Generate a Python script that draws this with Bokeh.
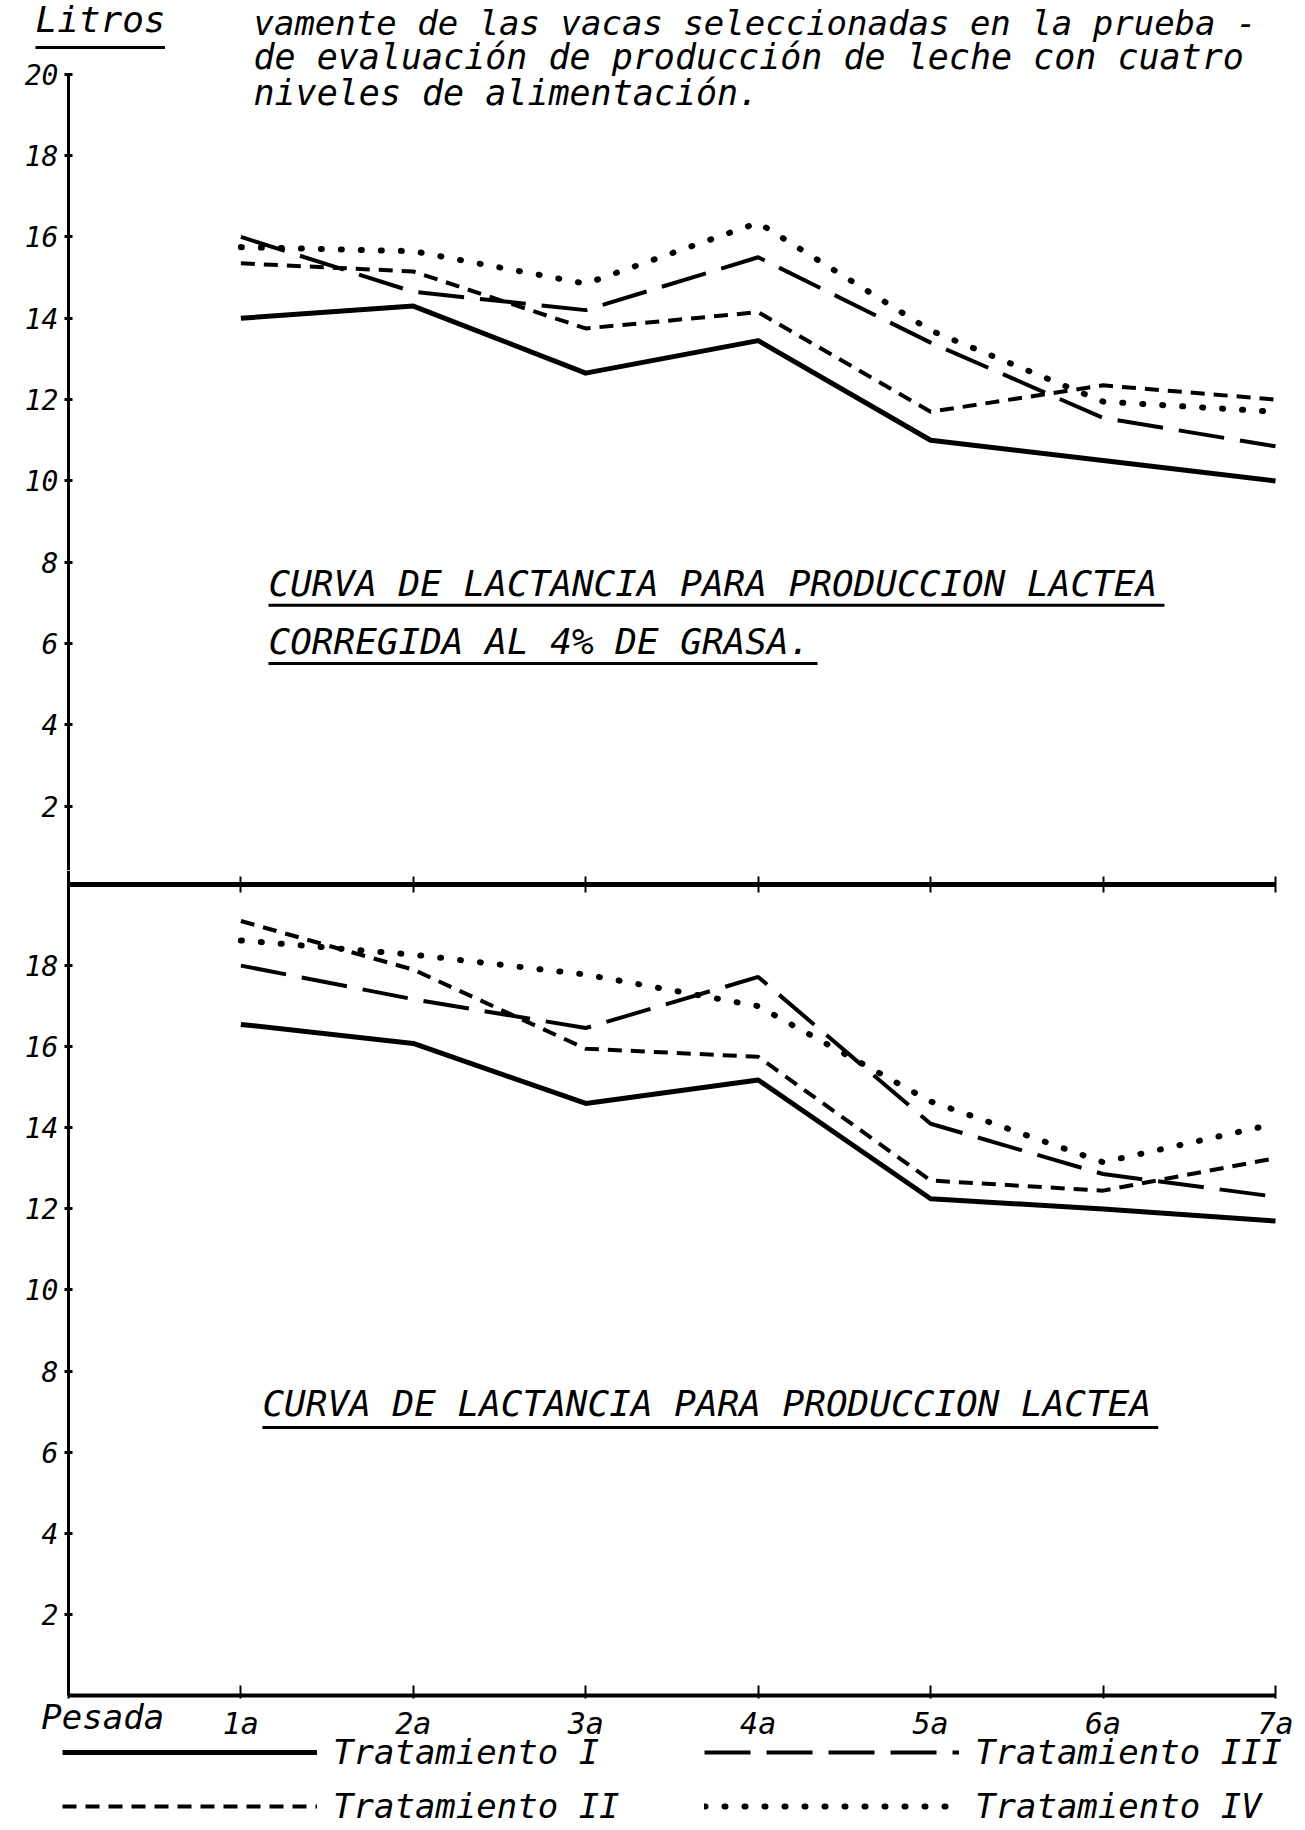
from bokeh.plotting import figure
from bokeh.models import Range1d, LinearAxis, FixedTicker, Legend, LegendItem
from bokeh.layouts import column
from bokeh.embed import file_html
from bokeh.resources import INLINE
from bokeh.core.properties import value

# ---------------- data ----------------
pesada_labels = ["1a", "2a", "3a", "4a", "5a", "6a", "7a"]
pesada_num = [1, 2, 3, 4, 5, 6, 7]

# Producción corregida al 4% de grasa (litros)
corr_t1 = [14.0, 14.3, 12.65, 13.45, 11.0, 10.5, 10.0]
corr_t2 = [15.35, 15.15, 13.75, 14.15, 11.7, 12.35, 12.0]
corr_t3 = [16.0, 14.65, 14.2, 15.5, 13.4, 11.55, 10.85]
corr_t4 = [15.75, 15.65, 14.85, 16.35, 13.7, 11.95, 11.7]

# Producción láctea (litros)
leche_t1 = [16.55, 16.08, 14.6, 15.18, 12.25, 12.0, 11.7]
leche_t2 = [19.1, 17.9, 15.95, 15.75, 12.7, 12.45, 13.25]
leche_t3 = [18.0, 17.17, 16.46, 17.72, 14.1, 12.86, 12.3]
leche_t4 = [18.62, 18.27, 17.78, 17.0, 14.65, 13.15, 14.1]

series_names = ["Tratamiento I", "Tratamiento II", "Tratamiento III", "Tratamiento IV"]
y_ticks_top = [2, 4, 6, 8, 10, 12, 14, 16, 18, 20]
y_ticks_bottom = [2, 4, 6, 8, 10, 12, 14, 16, 18]

title_lines = ["vamente de las vacas seleccionadas en la prueba -",
               "de evaluación de producción de leche con cuatro",
               "niveles de alimentación."]
caption_top = ["CURVA DE LACTANCIA PARA PRODUCCION LACTEA", "CORREGIDA AL 4% DE GRASA."]
caption_bottom = "CURVA DE LACTANCIA PARA PRODUCCION LACTEA"

# ---------------- styles ----------------
FONT = "DejaVu Sans Mono"
styles = [
    dict(line_width=5, line_dash="solid", line_join="round"),
    dict(line_width=4, line_dash="14 9"),
    dict(line_width=4, line_dash="46 16"),
    dict(line_width=6, line_dash="1 19", line_cap="round"),
]

xr = Range1d(-0.394, 7.174)
W = 1305


def make_fig(h, y0, y1):
    p = figure(width=W, height=h, x_range=xr, y_range=Range1d(y0, y1),
               output_backend="svg", toolbar_location=None,
               x_axis_location=None, y_axis_location=None, min_border=0)
    p.outline_line_color = None
    p.grid.grid_line_color = None
    p.background_fill_color = "white"
    return p


def y_axis(ticks, bounds):
    return LinearAxis(fixed_location=0, bounds=bounds, ticker=FixedTicker(ticks=ticks),
                      axis_line_width=3, axis_line_color="black",
                      major_tick_in=4, major_tick_out=4, major_tick_line_width=3,
                      minor_tick_line_color=None, major_label_standoff=6,
                      major_label_text_font=FONT, major_label_text_font_style="italic",
                      major_label_text_font_size="28px", major_label_text_color="black")


def txt(p, x, y, s, size="36px"):
    p.text(x=[x], y=[y], text=[s], text_font=value(FONT), text_font_style="italic",
           text_font_size=size, text_baseline="alphabetic", text_align="left",
           text_color="black")


# ---------------- top panel ----------------
pA = make_fig(870, 0.418, 21.815)
pA.add_layout(y_axis(y_ticks_top, (0, 20)), "left")

for vals, st in zip([corr_t1, corr_t2, corr_t3, corr_t4], styles):
    pA.line(pesada_num, vals, line_color="black", **st)

txt(pA, -0.191, 21.35, "Litros")
pA.segment(x0=[-0.191], y0=[20.66], x1=[0.56], y1=[20.66], line_width=3, line_color="black")
txt(pA, 1.073, 21.25, title_lines[0], size="34px")
txt(pA, 1.073, 20.42, title_lines[1], size="35px")
txt(pA, 1.073, 19.55, title_lines[2], size="35px")
txt(pA, 1.160, 7.48, caption_top[0])
txt(pA, 1.160, 6.05, caption_top[1])
pA.segment(x0=[1.160, 1.160], y0=[6.94, 5.51], x1=[6.356, 4.344], y1=[6.94, 5.51],
           line_width=3, line_color="black")

# ---------------- bottom panel ----------------
pB = make_fig(960, -3.329, 20.345)
pB.add_layout(y_axis(y_ticks_bottom, (0, 20.345)), "left")

mid_axis = LinearAxis(fixed_location=20, bounds=(0, 7), ticker=FixedTicker(ticks=[0] + pesada_num),
                      axis_line_width=5, axis_line_color="black",
                      major_tick_in=8, major_tick_out=8, major_tick_line_width=2,
                      minor_tick_line_color=None,
                      major_label_overrides={n: "" for n in [0] + pesada_num})
pB.add_layout(mid_axis, "below")

overrides = {0: ""}
overrides.update({n: lab for n, lab in zip(pesada_num, pesada_labels)})
bot_axis = LinearAxis(fixed_location=0, bounds=(0, 7), ticker=FixedTicker(ticks=[0] + pesada_num),
                      axis_line_width=4, axis_line_color="black",
                      major_tick_in=10, major_tick_out=3, major_tick_line_width=2,
                      minor_tick_line_color=None, major_label_standoff=7,
                      major_label_overrides=overrides,
                      major_label_text_font=FONT, major_label_text_font_style="italic",
                      major_label_text_font_size="30px", major_label_text_color="black")
pB.add_layout(bot_axis, "below")

rends = []
for vals, st in zip([leche_t1, leche_t2, leche_t3, leche_t4], styles):
    rends.append(pB.line(pesada_num, vals, line_color="black", **st))

txt(pB, 1.125, 7.20, caption_bottom)
pB.segment(x0=[1.125], y0=[6.61], x1=[6.32], y1=[6.61], line_width=3, line_color="black")
txt(pB, -0.157, -0.54, "Pesada", size="34px")

legend = Legend(items=[LegendItem(label=n, renderers=[r]) for n, r in zip(series_names, rends)],
                location=(62, 4), orientation="vertical", ncols=2,
                glyph_width=255, glyph_height=36, label_height=36, label_width=357,
                label_standoff=16, spacing=14, padding=0, margin=0,
                border_line_color=None, background_fill_alpha=0,
                label_text_font=FONT, label_text_font_style="italic",
                label_text_font_size="34px", label_text_color="black")
pB.add_layout(legend)

layout = column(pA, pB, spacing=0)
open("out.html", "w").write(file_html(layout, INLINE))
